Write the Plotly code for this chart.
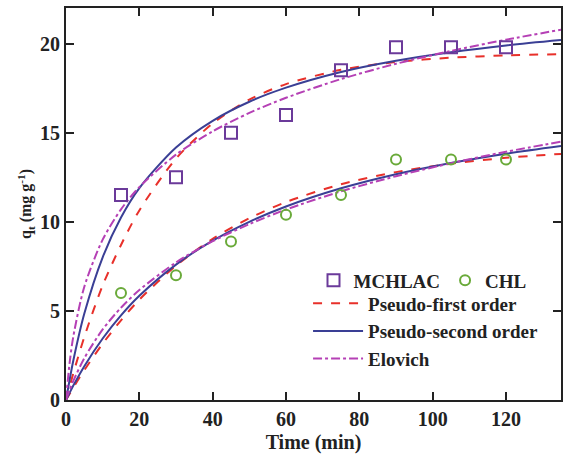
import plotly.graph_objects as go

# Experimental data
t_exp = [15, 30, 45, 60, 75, 90, 105, 120]
q_mchlac = [11.5, 12.5, 15.0, 16.0, 18.5, 19.8, 19.8, 19.8]
q_chl = [6.0, 7.0, 8.9, 10.4, 11.5, 13.5, 13.5, 13.5]

# Fitted curves
t_fit = [0, 1, 2, 5, 10, 15, 20, 30, 40, 50, 60, 75, 90, 105, 120, 135]
m_pfo = [0, 0.76, 1.50, 3.54, 6.43, 8.70, 10.64, 13.55, 15.52, 16.86, 17.73, 18.53, 18.97, 19.21, 19.34, 19.41]
m_pso = [0, 1.15, 2.22, 4.85, 8.01, 10.24, 11.89, 14.17, 15.67, 16.74, 17.53, 18.41, 19.04, 19.52, 19.90, 20.20]
m_elo = [0, 2.11, 3.57, 6.36, 9.00, 10.70, 11.95, 13.77, 15.08, 16.11, 16.96, 18.01, 18.87, 19.59, 20.22, 20.78]
c_pfo = [0, 0.35, 0.70, 1.68, 3.16, 4.47, 5.63, 7.54, 9.04, 10.20, 11.11, 12.11, 12.79, 13.26, 13.59, 13.81]
c_pso = [0, 0.41, 0.81, 1.90, 3.45, 4.75, 5.85, 7.60, 8.94, 10.00, 10.86, 11.88, 12.67, 13.30, 13.82, 14.25]
c_elo = [0, 0.56, 1.07, 2.35, 3.96, 5.18, 6.17, 7.72, 8.91, 9.87, 10.69, 11.71, 12.56, 13.29, 13.93, 14.50]

x_ticks = [0, 20, 40, 60, 80, 100, 120]
y_ticks = [0, 5, 10, 15, 20]

RED = "#e8302a"
BLUE = "#3a3f95"
MAG = "#b540b5"
PURPLE = "#6b3a9a"
GREEN = "#6aaa3a"
INK = "#222222"
FONT = "Liberation Serif"

fig = go.Figure()

def line(x, y, color, dash, name, show):
    fig.add_trace(go.Scatter(x=x, y=y, mode="lines", name="<b>%s</b>" % name, showlegend=show,
                             legend="legend2",
                             line=dict(color=color, dash=dash, width=2, shape="spline", smoothing=0.8)))

line(t_fit, m_pfo, RED, "dash", "Pseudo-first order", True)
line(t_fit, c_pfo, RED, "dash", "Pseudo-first order", False)
line(t_fit, m_pso, BLUE, "solid", "Pseudo-second order", True)
line(t_fit, c_pso, BLUE, "solid", "Pseudo-second order", False)
line(t_fit, m_elo, MAG, "dashdot", "Elovich", True)
line(t_fit, c_elo, MAG, "dashdot", "Elovich", False)

fig.add_trace(go.Scatter(x=t_exp, y=q_mchlac, mode="markers", name="<b>MCHLAC</b>", legend="legend",
                         marker=dict(symbol="square-open", size=12, color=PURPLE, line=dict(width=2))))
fig.add_trace(go.Scatter(x=t_exp, y=q_chl, mode="markers", name="<b>CHL</b>", legend="legend",
                         marker=dict(symbol="circle-open", size=10, color=GREEN, line=dict(width=2))))

axis_common = dict(showline=True, linecolor=INK, linewidth=2, mirror="ticks",
                   ticks="inside", ticklen=8, tickwidth=1.5, tickcolor=INK,
                   showgrid=False, zeroline=False,
                   tickfont=dict(family=FONT, size=20, color=INK))

fig.update_layout(
    width=572, height=459,
    margin=dict(l=66, r=11, t=6, b=59),
    plot_bgcolor="white", paper_bgcolor="white",
    font=dict(family=FONT, size=19, color=INK),
    xaxis=dict(range=[0, 135], tickvals=x_ticks, ticktext=["<b>%d</b>" % v for v in x_ticks],
               title=dict(text="<b>Time (min)</b>", font=dict(family=FONT, size=20, color=INK), standoff=6),
               **axis_common),
    yaxis=dict(range=[0, 22], tickvals=y_ticks, ticktext=["<b>%d</b>" % v for v in y_ticks],
               title=dict(text="<b>q<sub>t</sub> (mg g<sup>-1</sup>)</b>",
                          font=dict(family=FONT, size=16, color=INK), standoff=4),
               **axis_common),
    legend=dict(orientation="h", x=0.50, y=0.305, xanchor="left", yanchor="middle",
                bgcolor="rgba(0,0,0,0)", font=dict(family=FONT, size=19, color=INK),
                tracegroupgap=0),
    legend2=dict(orientation="v", x=0.489, y=0.295, xanchor="left", yanchor="top",
                 bgcolor="rgba(0,0,0,0)", font=dict(family=FONT, size=19, color=INK),
                 itemwidth=50, tracegroupgap=0),
)

fig.write_html("out.html")
